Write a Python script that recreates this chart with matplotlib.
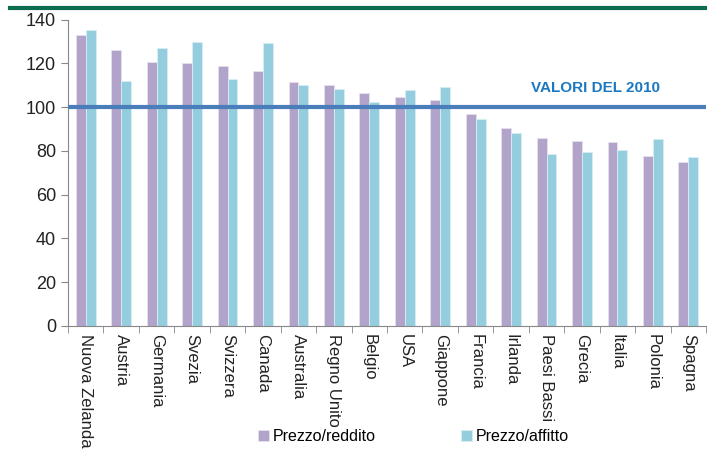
import numpy as np
import matplotlib.pyplot as plt
from matplotlib.lines import Line2D

plt.rcParams['font.family'] = ['Liberation Sans Narrow', 'Liberation Sans', 'DejaVu Sans']

paesi = ['Nuova Zelanda', 'Austria', 'Germania', 'Svezia', 'Svizzera', 'Canada',
         'Australia', 'Regno Unito', 'Belgio', 'USA', 'Giappone', 'Francia',
         'Irlanda', 'Paesi Bassi', 'Grecia', 'Italia', 'Polonia', 'Spagna']
prezzo_reddito = [133, 126, 120.6, 120, 118.6, 116.5, 111.3, 110.2, 106.3, 104.5,
                  103.1, 96.8, 90.5, 85.9, 84.7, 84.2, 77.5, 75.1]
prezzo_affitto = [135, 112, 127, 129.7, 113, 129.3, 110.1, 108.3, 102.5, 107.8,
                  109.2, 94.6, 88.2, 78.6, 79.5, 80.4, 85.4, 77]

viola = '#b1a3c9'
azzurro = '#94cddd'

fig = plt.figure(figsize=(7.07, 4.57), dpi=100)
ax = fig.add_axes([0.0962, 0.2867, 0.9025, 0.6706])

x = np.arange(len(paesi))
w = 0.28
ax.bar(x - w / 2, prezzo_reddito, w, color=viola, edgecolor='#e6e0ee', linewidth=0.6,
       label='Prezzo/reddito')
ax.bar(x + w / 2, prezzo_affitto, w, color=azzurro, edgecolor='#d8eef4', linewidth=0.6,
       label='Prezzo/affitto')

ax.axhline(100, color='#4a7ebb', linewidth=3, zorder=3)
ax.text(12.55, 108.5, 'VALORI DEL 2010', color='#1a78c2', fontsize=11,
        fontweight='bold', ha='left', va='center')

ax.set_xlim(-0.5, len(paesi) - 0.5)
ax.set_ylim(0, 140)
ax.set_yticks(range(0, 141, 20))
ax.tick_params(axis='y', labelsize=13, length=5, color='#888888', labelcolor='#222222')

ax.set_xticks(x)
ax.set_xticklabels(paesi, rotation=270, fontsize=12, color='#222222')
ax.tick_params(axis='x', length=0, pad=6)
ax.set_xticks(np.arange(-0.5, len(paesi)), minor=True)
ax.tick_params(axis='x', which='minor', length=5, color='#888888')

for s in ['top', 'right']:
    ax.spines[s].set_visible(False)
for s in ['left', 'bottom']:
    ax.spines[s].set_color('#888888')

# linea verde in alto
fig.add_artist(Line2D([0.014, 1.0], [0.982, 0.982], color='#0d6b4f', linewidth=3,
                      transform=fig.transFigure))

handles, labels = ax.get_legend_handles_labels()
fig.legend(handles, labels, loc='center', bbox_to_anchor=(0.585, 0.044), ncol=2,
           frameon=False, fontsize=11.5, handlelength=0.7, handleheight=0.7,
           handletextpad=0.25, columnspacing=5.3)

fig.savefig('out.png', dpi=100)
